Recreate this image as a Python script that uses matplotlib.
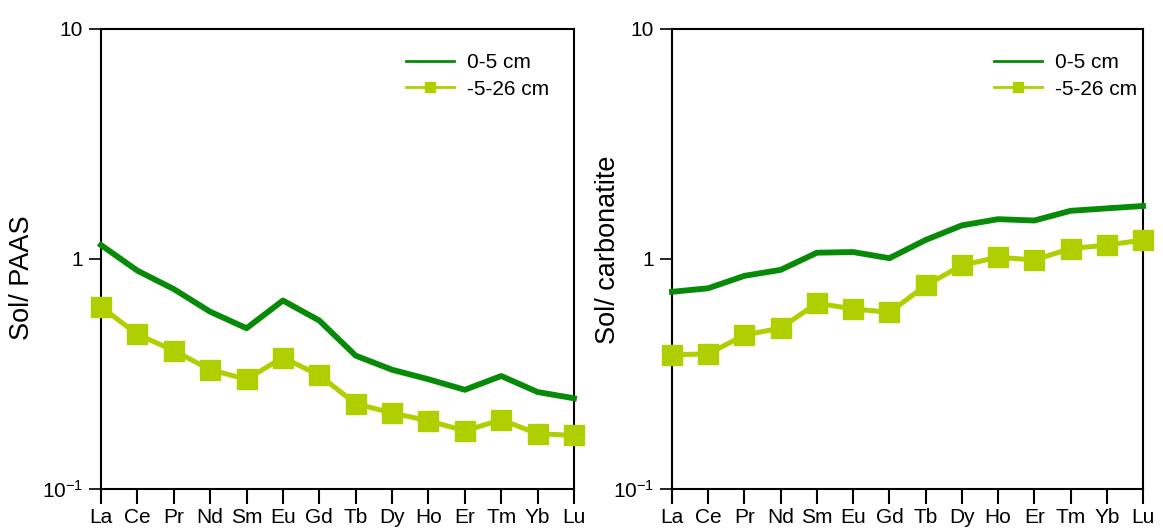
import numpy as np
import matplotlib
matplotlib.use('Agg')
import matplotlib.pyplot as plt
from matplotlib.lines import Line2D
from matplotlib.ticker import FixedLocator, FixedFormatter, NullLocator

plt.rcParams['font.family'] = ['Liberation Sans', 'DejaVu Sans']
plt.rcParams['mathtext.default'] = 'regular'

# Dane
pierwiastki = ['La', 'Ce', 'Pr', 'Nd', 'Sm', 'Eu', 'Gd', 'Tb', 'Dy', 'Ho', 'Er', 'Tm', 'Yb', 'Lu']

paas_0_5 = [1.15, 0.89, 0.74, 0.59, 0.50, 0.66, 0.54, 0.38, 0.33, 0.30, 0.27, 0.31, 0.264, 0.248]
paas_5_26 = [0.62, 0.47, 0.40, 0.33, 0.30, 0.373, 0.312, 0.235, 0.214, 0.198, 0.179, 0.200, 0.174, 0.171]

carb_0_5 = [0.72, 0.746, 0.845, 0.897, 1.065, 1.072, 1.008, 1.21, 1.40, 1.49, 1.47, 1.62, 1.66, 1.70]
carb_5_26 = [0.383, 0.387, 0.467, 0.501, 0.642, 0.607, 0.586, 0.767, 0.939, 1.018, 0.99, 1.11, 1.149, 1.21]

etykiety = ['0-5 cm', '-5-26 cm']
ylabels = ['Sol/ PAAS', 'Sol/ carbonatite']

ciemny = '#078a07'
jasny = '#b0cf00'

fig = plt.figure(figsize=(11.63, 5.29), dpi=100)
ax1 = fig.add_axes([101 / 1163, 40 / 529, 473 / 1163, 460 / 529])
ax2 = fig.add_axes([672 / 1163, 40 / 529, 471 / 1163, 460 / 529])

x = np.arange(len(pierwiastki))

for ax, gora, dol, ylab, leg_x in [(ax1, paas_0_5, paas_5_26, ylabels[0], 0.628),
                                   (ax2, carb_0_5, carb_5_26, ylabels[1], 0.667)]:
    ax.plot(x, gora, color=ciemny, linewidth=4.2, clip_on=False, zorder=3)
    ax.plot(x, dol, color=jasny, linewidth=3.6, marker='s', markersize=14,
            clip_on=False, zorder=4)

    ax.set_yscale('log')
    ax.set_ylim(0.1, 10)
    ax.set_xlim(0, len(pierwiastki) - 1)
    ax.yaxis.set_major_locator(FixedLocator([0.1, 1, 10]))
    ax.yaxis.set_major_formatter(FixedFormatter(['$10^{-1}$', '1', '10']))
    ax.yaxis.set_minor_locator(NullLocator())
    ax.set_xticks(x)
    ax.set_xticklabels(pierwiastki)
    ax.tick_params(axis='x', direction='out', length=11, width=1.5, pad=3, labelsize=15)
    ax.tick_params(axis='y', direction='out', length=9, width=1.2, pad=4, labelsize=15)
    for s in ax.spines.values():
        s.set_linewidth(1.5)
    ax.set_ylabel(ylab, fontsize=19.5)

    uchwyty = [Line2D([0], [0], color=ciemny, linewidth=2),
               Line2D([0], [0], color=jasny, linewidth=2, marker='s', markersize=7)]
    ax.legend(uchwyty, etykiety, loc='upper left', bbox_to_anchor=(leg_x, 0.965),
              borderaxespad=0, frameon=False, fontsize=15, handlelength=2.3,
              handletextpad=0.6, labelspacing=0.35)

ax1.yaxis.set_label_coords(-0.14, 0.46)
ax2.yaxis.set_label_coords(-0.108, 0.52)

plt.savefig('out.png', dpi=100)
plt.close()
